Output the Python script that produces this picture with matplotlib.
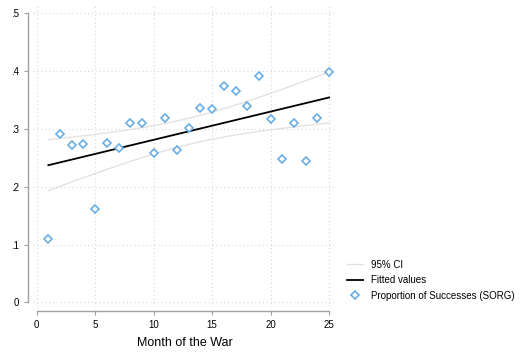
import numpy as np
import matplotlib
matplotlib.use("Agg")
import matplotlib.pyplot as plt
from matplotlib.lines import Line2D

plt.rcParams['font.family'] = ['Liberation Sans', 'DejaVu Sans']

# proportion of successes by month
month = np.arange(1, 26)
prop = [0.110, 0.292, 0.273, 0.274, 0.162, 0.276, 0.267, 0.311, 0.311, 0.259,
        0.320, 0.264, 0.301, 0.337, 0.335, 0.375, 0.365, 0.340, 0.391, 0.317,
        0.249, 0.310, 0.244, 0.320, 0.399]
prop = np.array(prop)

# linear fit and 95% confidence band
b, a = np.polyfit(month, prop, 1)
xs = np.linspace(1, 25, 100)
fit = a + b * xs
n = len(month)
resid = prop - (a + b * month)
s = np.sqrt(np.sum(resid ** 2) / (n - 2))
se = s * np.sqrt(1 / n + (xs - month.mean()) ** 2 / np.sum((month - month.mean()) ** 2))
t = 2.069
lo, hi = fit - t * se, fit + t * se

fig = plt.figure(figsize=(5.28, 3.53), dpi=100)
ax = fig.add_axes([0.0617, 0.1317, 0.575, 0.8547])

ci_col = '#e2e2e2'
pt_col = '#6aaee6'
ax.plot(xs, lo, color=ci_col, lw=1.0, zorder=2)
ax.plot(xs, hi, color=ci_col, lw=1.0, zorder=2)
ax.plot(xs, fit, color='black', lw=1.3, zorder=3)
ax.plot(month, prop, linestyle='none', marker='D', markersize=4.0,
        markerfacecolor='white', markeredgecolor=pt_col, markeredgewidth=1.2, zorder=4)

ax.set_xlim(-0.35, 25.6)
ax.set_ylim(-0.007, 0.515)
ax.set_xticks([0, 5, 10, 15, 20, 25])
yt = [0, 0.1, 0.2, 0.3, 0.4, 0.5]
ax.set_yticks(yt)
ax.set_yticklabels(['0', '.1', '.2', '.3', '.4', '.5'])

ax.grid(True, linestyle=(0, (1, 2.5)), color='#d8d8d8', lw=0.8)
ylines = ax.yaxis.get_gridlines()
ylines[0].set_visible(False)
ylines[-1].set_visible(False)
ax.set_axisbelow(True)

for side in ['top', 'right']:
    ax.spines[side].set_visible(False)
for side in ['left', 'bottom']:
    ax.spines[side].set_position(('outward', 3))
    ax.spines[side].set_color('#a0a0a0')
    ax.spines[side].set_linewidth(1.0)
ax.spines['left'].set_bounds(0, 0.5)
ax.spines['bottom'].set_bounds(0, 25)
ax.tick_params(colors='#a0a0a0', labelcolor='black', length=3, width=0.8, labelsize=7)

ax.set_xlabel('Month of the War', fontsize=9, labelpad=5)

handles = [Line2D([], [], color=ci_col, lw=1.0),
           Line2D([], [], color='black', lw=1.3),
           Line2D([], [], linestyle='none', marker='D', markersize=4.0,
                  markerfacecolor='white', markeredgecolor=pt_col, markeredgewidth=1.2)]
labels = ['95% CI', 'Fitted values', 'Proportion of Successes (SORG)']
fig.legend(handles, labels, loc='upper left', bbox_to_anchor=(0.65, 0.275),
           frameon=False, fontsize=7, handlelength=1.6, handletextpad=0.9,
           labelspacing=0.55, borderaxespad=0)

fig.savefig('out.png', dpi=100)
